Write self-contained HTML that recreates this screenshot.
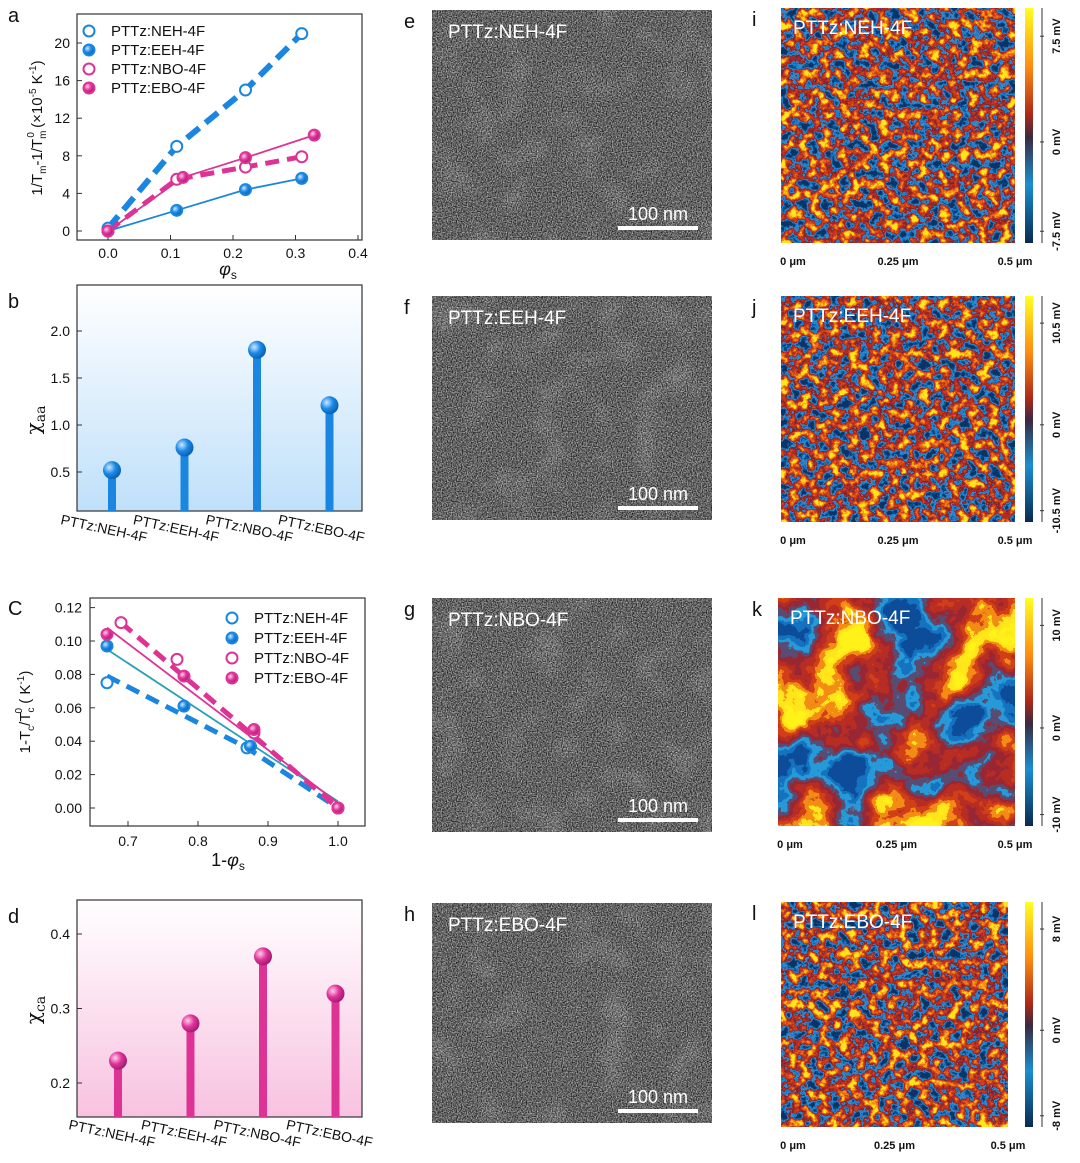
<!DOCTYPE html>
<html><head><meta charset="utf-8">
<style>
body{margin:0;background:#fff;width:1080px;height:1163px;overflow:hidden;font-family:"Liberation Sans",sans-serif;}
svg{position:absolute;left:0;top:0}
filter{color-interpolation-filters:sRGB}
</style></head>
<body>
<svg id="fig" width="1080" height="1163" viewBox="0 0 1080 1163">
<defs>
<filter id="grain" x="0" y="0" width="100%" height="100%" color-interpolation-filters="sRGB">
<feTurbulence type="fractalNoise" baseFrequency="0.8" numOctaves="2" seed="3" result="n"/>
<feColorMatrix in="n" type="matrix" values="1.3 0 0 0 -0.27  1.3 0 0 0 -0.27  1.3 0 0 0 -0.27  0 0 0 0 1" result="g1"/>
<feTurbulence type="fractalNoise" baseFrequency="0.03" numOctaves="2" seed="9" result="m"/>
<feColorMatrix in="m" type="matrix" values="0.25 0 0 0 -0.125  0.25 0 0 0 -0.125  0.25 0 0 0 -0.125  0 0 0 0 1" result="m1"/>
<feComposite in="g1" in2="m1" operator="arithmetic" k1="0" k2="1" k3="1" k4="0"/>
</filter>
<filter id="map1" x="0" y="0" width="100%" height="100%" color-interpolation-filters="sRGB">
<feTurbulence type="fractalNoise" baseFrequency="0.1" numOctaves="4" seed="7"/>
<feColorMatrix type="matrix" values="2 0 0 0 -0.5  2 0 0 0 -0.5  2 0 0 0 -0.5  0 0 0 0 1"/>
<feComponentTransfer>
<feFuncR type="discrete" tableValues="0.05 0.05 0.1 0.2 0.5 0.7 0.8 0.92 0.98 1"/>
<feFuncG type="discrete" tableValues="0.2 0.3 0.5 0.55 0.14 0.17 0.25 0.42 0.65 0.9"/>
<feFuncB type="discrete" tableValues="0.4 0.55 0.8 0.8 0.18 0.14 0.1 0.08 0.08 0.1"/>
<feFuncA type="linear" slope="0" intercept="1"/>
</feComponentTransfer>
</filter>
<filter id="map2" x="0" y="0" width="100%" height="100%" color-interpolation-filters="sRGB">
<feTurbulence type="fractalNoise" baseFrequency="0.015" numOctaves="6" seed="11"/>
<feColorMatrix type="matrix" values="2 0 0 0 -0.5  2 0 0 0 -0.5  2 0 0 0 -0.5  0 0 0 0 1"/>
<feComponentTransfer>
<feFuncR type="discrete" tableValues="0.05 0.08 0.15 0.35 0.6 0.72 0.82 0.95 1 1"/>
<feFuncG type="discrete" tableValues="0.3 0.45 0.6 0.3 0.15 0.18 0.25 0.55 0.9 0.95"/>
<feFuncB type="discrete" tableValues="0.6 0.75 0.85 0.45 0.2 0.14 0.1 0.08 0.1 0.1"/>
<feFuncA type="linear" slope="0" intercept="1"/>
</feComponentTransfer>
</filter>
<linearGradient id="cbar" x1="0" y1="0" x2="0" y2="1">
<stop offset="0" stop-color="#ffff20"/><stop offset="0.25" stop-color="#ff8c10"/>
<stop offset="0.45" stop-color="#b02818"/><stop offset="0.55" stop-color="#3a2a40"/>
<stop offset="0.75" stop-color="#1a8fd0"/><stop offset="1" stop-color="#0a2a50"/>
</linearGradient>
<linearGradient id="bgBlue" x1="0" y1="0" x2="0" y2="1"><stop offset="0" stop-color="#fff"/><stop offset="1" stop-color="#bfe0fa"/></linearGradient>
<linearGradient id="bgPink" x1="0" y1="0" x2="0" y2="1"><stop offset="0" stop-color="#fff"/><stop offset="1" stop-color="#f8c2e0"/></linearGradient>
<radialGradient id="ballB" cx="0.35" cy="0.35" r="0.7"><stop offset="0" stop-color="#cfe8ff"/><stop offset="0.5" stop-color="#1a8ae6"/><stop offset="1" stop-color="#0a5cb0"/></radialGradient>
<radialGradient id="ballP" cx="0.35" cy="0.35" r="0.7"><stop offset="0" stop-color="#ffd0ea"/><stop offset="0.5" stop-color="#e0349a"/><stop offset="1" stop-color="#a01870"/></radialGradient>
</defs>
<g id="root"></g>
</svg>
<script>
// ---- panel a data ----
const aNEHx=[0,0.11,0.22,0.31], aNEHy=[0.3,9,15,21];
const aEEHx=[0,0.11,0.22,0.31], aEEHy=[0,2.2,4.4,5.6];
const aNBOx=[0,0.11,0.22,0.31], aNBOy=[0,5.5,6.8,7.9];
const aEBOx=[0,0.12,0.22,0.33], aEBOy=[0,5.7,7.8,10.2];
const aXTicks=[0.0,0.1,0.2,0.3,0.4], aYTicks=[0,4,8,12,16,20];
// ---- panel b data ----
const bCats=["PTTz:NEH-4F","PTTz:EEH-4F","PTTz:NBO-4F","PTTz:EBO-4F"];
const bVals=[0.52,0.76,1.8,1.21];
const bYTicks=[0.5,1.0,1.5,2.0];
// ---- panel c data ----
const cNEHx=[0.67,0.87,1.0], cNEHy=[0.075,0.036,0];
const cEEHx=[0.67,0.78,0.875,1.0], cEEHy=[0.097,0.061,0.037,0];
const cNBOx=[0.69,0.77,0.88,1.0], cNBOy=[0.111,0.089,0.045,0];
const cEBOx=[0.67,0.78,0.88,1.0], cEBOy=[0.104,0.079,0.047,0];
const cXTicks=[0.7,0.8,0.9,1.0], cYTicks=[0,0.02,0.04,0.06,0.08,0.10,0.12];
// ---- panel d data ----
const dCats=["PTTz:NEH-4F","PTTz:EEH-4F","PTTz:NBO-4F","PTTz:EBO-4F"];
const dVals=[0.23,0.28,0.37,0.32];
const dYTicks=[0.2,0.3,0.4];

const NS="http://www.w3.org/2000/svg";
const root=document.getElementById('root');
function mk(tag,at,parent){const e=document.createElementNS(NS,tag);for(const k in at)e.setAttribute(k,at[k]);(parent||root).appendChild(e);return e;}
function txt(x,y,s,size,anchor,parent){const t=mk('text',{x:x,y:y,'font-size':size,'text-anchor':anchor||'middle',fill:'#111'},parent);t.textContent=s;return t;}
const BLUE="#1a86e0", PINK="#dd3394";

// ===== Panel a =====
const ax=v=>108+v*625, ay=v=>231-v*9.4;
let g=mk('g',{});


let fr=mk('rect',{x:77,y:14,width:285,height:226,fill:'none',stroke:'#333','stroke-width':1.2},g);


aXTicks.forEach(v=>{mk('line',{x1:ax(v),x2:ax(v),y1:240,y2:235,stroke:'#333'},g);let t=txt(ax(v),258,v.toFixed(1),14,'middle',g);});
aYTicks.forEach(v=>{mk('line',{x1:77,x2:82,y1:ay(v),y2:ay(v),stroke:'#333'},g);let t=txt(70,ay(v)+5,String(v),14,'end',g);});
let lab=txt(8,22,'a',20,'start',g);
let xt=mk('text',{x:228,y:275,'font-size':18,'text-anchor':'middle','font-style':'italic',fill:'#111'},g);xt.innerHTML='φ<tspan font-size="12" font-style="normal" dy="4">s</tspan>';

let yt=mk('text',{transform:'translate(42,128) rotate(-90)','font-size':15,'text-anchor':'middle',fill:'#111'},g);
yt.innerHTML='1/T<tspan font-size="10" dy="4">m</tspan><tspan dy="-4">-1/T</tspan><tspan font-size="10" dy="4">m</tspan><tspan font-size="10" dy="-12" dx="-7">0</tspan><tspan dy="8"> (×10</tspan><tspan font-size="10" dy="-6">-5</tspan><tspan dy="6"> K</tspan><tspan font-size="10" dy="-6">-1</tspan><tspan dy="6">)</tspan>';

function poly(xs,ys,fx,fy,col,w,dash,name,par){const p=xs.map((x,i)=>fx(x)+','+fy(ys[i])).join(' ');const l=mk('polyline',{points:p,fill:'none',stroke:col,'stroke-width':w,'stroke-dasharray':dash||'none','stroke-linecap':'butt'},par);return l;}
function pts(xs,ys,fx,fy,col,filled,name,par){xs.forEach((x,i)=>{const c=mk('circle',{cx:fx(x),cy:fy(ys[i]),r:5.5,fill:filled?(col===BLUE?'url(#ballB)':'url(#ballP)'):'#fff',stroke:col,'stroke-width':2},par);});}
poly(aNEHx,aNEHy,ax,ay,BLUE,6,'16,8','a-neh-fit',g);
poly(aEEHx,aEEHy,ax,ay,BLUE,1.8,null,'a-eeh-fit',g);
poly(aNBOx,aNBOy,ax,ay,PINK,5,'14,8','a-nbo-fit',g);
poly(aEBOx,aEBOy,ax,ay,PINK,1.8,null,'a-ebo-fit',g);
pts(aNEHx,aNEHy,ax,ay,BLUE,false,'a-neh-point',g);
pts(aEEHx,aEEHy,ax,ay,BLUE,true,'a-eeh-point',g);
pts(aNBOx,aNBOy,ax,ay,PINK,false,'a-nbo-point',g);
pts(aEBOx,aEBOy,ax,ay,PINK,true,'a-ebo-point',g);
function legend(x0,y0,step,par,prefix){
 const items=[["PTTz:NEH-4F",BLUE,false],["PTTz:EEH-4F",BLUE,true],["PTTz:NBO-4F",PINK,false],["PTTz:EBO-4F",PINK,true]];
 items.forEach((it,i)=>{const y=y0+i*step;const c=mk('circle',{cx:x0,cy:y,r:5.5,fill:it[2]?(it[1]===BLUE?'url(#ballB)':'url(#ballP)'):'#fff',stroke:it[1],'stroke-width':2},par);
 
 const t=txt(x0+22,y+5,it[0],15,'start',par);});
}
legend(89,31,19,g,'a');

// ===== Panel b =====
const by=v=>472-(v-0.5)*94;
g=mk('g',{});


let bg=mk('rect',{x:77,y:285,width:285,height:226,fill:'url(#bgBlue)',stroke:'#333','stroke-width':1.2},g);

bYTicks.forEach(v=>{mk('line',{x1:77,x2:82,y1:by(v),y2:by(v),stroke:'#333'},g);let t=txt(70,by(v)+5,v.toFixed(1),14,'end',g);});
lab=txt(8,308,'b',20,'start',g);
yt=mk('text',{transform:'translate(40,420) rotate(-90)','font-size':20,'text-anchor':'middle',fill:'#111','font-family':'DejaVu Serif, serif'},g);yt.innerHTML='χ<tspan font-size="14" dy="5">aa</tspan>';

bCats.forEach((c,i)=>{const x=112+i*72.5;
 const st=mk('rect',{x:x-4,y:by(bVals[i]),width:8,height:511-by(bVals[i]),fill:BLUE},g);
 const b=mk('circle',{cx:x,cy:by(bVals[i]),r:9,fill:'url(#ballB)'},g);
 const t=mk('text',{transform:`translate(${x-52},${524}) rotate(12)`,'font-size':14,fill:'#111'},g);t.textContent=c;});

// ===== Panel c =====
const cx=v=>128+(v-0.7)*700, cy=v=>808-v*1670;
g=mk('g',{});


fr=mk('rect',{x:90,y:598,width:275,height:228,fill:'none',stroke:'#333','stroke-width':1.2},g);

cXTicks.forEach(v=>{mk('line',{x1:cx(v),x2:cx(v),y1:826,y2:821,stroke:'#333'},g);let t=txt(cx(v),846,v.toFixed(1),14,'middle',g);});
cYTicks.forEach(v=>{mk('line',{x1:90,x2:95,y1:cy(v),y2:cy(v),stroke:'#333'},g);let t=txt(82,cy(v)+5,v.toFixed(2),14,'end',g);});
lab=txt(8,615,'C',20,'start',g);
xt=mk('text',{x:228,y:866,'font-size':18,'text-anchor':'middle',fill:'#111'},g);xt.innerHTML='1-<tspan font-style="italic">φ</tspan><tspan font-size="12" dy="4">s</tspan>';

yt=mk('text',{transform:'translate(30,712) rotate(-90)','font-size':15,'text-anchor':'middle',fill:'#111'},g);
yt.innerHTML='1-T<tspan font-size="10" dy="4">c</tspan><tspan dy="-4">/T</tspan><tspan font-size="10" dy="4">c</tspan><tspan font-size="10" dy="-12" dx="-6">0</tspan><tspan dy="8"> ( K</tspan><tspan font-size="10" dy="-6">-1</tspan><tspan dy="6">)</tspan>';

poly(cNEHx,cNEHy.map((v,i)=>i===0?0.079:v),cx,cy,BLUE,5,'14,8','c-neh-fit',g);
poly([0.67,1.0],[0.095,0.004],cx,cy,'#2aa0b8',1.8,null,'c-eeh-fit',g);
poly([0.69,1.0],[0.111,0],cx,cy,PINK,5,'14,8','c-nbo-fit',g);
poly([0.67,1.0],[0.108,0.003],cx,cy,PINK,1.8,null,'c-ebo-fit',g);
pts(cNEHx,cNEHy,cx,cy,BLUE,false,'c-neh-point',g);
pts(cEEHx,cEEHy,cx,cy,BLUE,true,'c-eeh-point',g);
pts(cNBOx,cNBOy,cx,cy,PINK,false,'c-nbo-point',g);
pts(cEBOx,cEBOy,cx,cy,PINK,true,'c-ebo-point',g);
legend(232,618,20,g,'c');

// ===== Panel d =====
const dy=v=>1083-(v-0.2)*745;
g=mk('g',{});


bg=mk('rect',{x:77,y:900,width:285,height:217,fill:'url(#bgPink)',stroke:'#333','stroke-width':1.2},g);

dYTicks.forEach(v=>{mk('line',{x1:77,x2:82,y1:dy(v),y2:dy(v),stroke:'#333'},g);let t=txt(70,dy(v)+5,v.toFixed(1),14,'end',g);});
lab=txt(8,923,'d',20,'start',g);
yt=mk('text',{transform:'translate(40,1010) rotate(-90)','font-size':20,'text-anchor':'middle',fill:'#111','font-family':'DejaVu Serif, serif'},g);yt.innerHTML='χ<tspan font-size="14" dy="5">ca</tspan>';

dCats.forEach((c,i)=>{const x=118+i*72.5;
 const st=mk('rect',{x:x-4,y:dy(dVals[i]),width:8,height:1117-dy(dVals[i]),fill:PINK},g);
 const b=mk('circle',{cx:x,cy:dy(dVals[i]),r:9,fill:'url(#ballP)'},g);
 const t=mk('text',{transform:`translate(${x-50},${1129}) rotate(12)`,'font-size':14,fill:'#111'},g);t.textContent=c;});

// ===== TEM images =====
const tem=[["e","PTTz:NEH-4F",10,230],["f","PTTz:EEH-4F",296,224],["g","PTTz:NBO-4F",598,234],["h","PTTz:EBO-4F",903,220]];
tem.forEach(t=>{const gg=mk('g',{});
 mk('rect',{x:432,y:t[2],width:280,height:t[3],fill:'#6e6e6e'},gg);
 mk('rect',{x:432,y:t[2],width:280,height:t[3],fill:'#777',filter:'url(#grain)',opacity:0.85},gg);
 const l=txt(404,t[2]+18,t[0],20,'start',gg);
 const tt=mk('text',{x:448,y:t[2]+28,'font-size':19,fill:'#fff'},gg);tt.textContent=t[1];
 const sb=mk('rect',{x:618,y:t[2]+t[3]-14,width:80,height:4,fill:'#fff'},gg);
 const st=mk('text',{x:658,y:t[2]+t[3]-20,'font-size':18,fill:'#fff','text-anchor':'middle'},gg);st.textContent='100 nm';
});

// ===== KPFM maps =====
const maps=[["i","PTTz:NEH-4F",781,8,234,235,"7.5 mV","-7.5 mV","map1"],["j","PTTz:EEH-4F",781,296,234,226,"10.5 mV","-10.5 mV","map1"],["k","PTTz:NBO-4F",778,598,237,228,"10 mV","-10 mV","map2"],["l","PTTz:EBO-4F",781,902,227,225,"8 mV","-8 mV","map1"]];
maps.forEach(m=>{const gg=mk('g',{});
 const [_,title,x,y,w,h,hi,lo,f]=m;
 mk('rect',{x:x,y:y,width:w,height:h,fill:'#a03020',filter:'url(#'+f+')'},gg);
 const l=txt(752,y+18,m[0],20,'start',gg);
 const tt=mk('text',{x:x+12,y:y+26,'font-size':19,fill:'#fff'},gg);tt.textContent=title;
 const cb=mk('rect',{x:1025,y:y,width:8,height:h,fill:'url(#cbar)'},gg);
 [[hi,y+h*0.12],["0 mV",y+h*0.57],[lo,y+h*0.95]].forEach((p,k)=>{mk('line',{x1:1040,x2:1044,y1:p[1],y2:p[1],stroke:'#333'},gg);const t=mk('text',{transform:`translate(1060,${p[1]}) rotate(-90)`,'font-size':11,'font-weight':'bold','text-anchor':'middle',fill:'#111'},gg);t.textContent=p[0];});
 mk('line',{x1:1042,x2:1042,y1:y,y2:y+h,stroke:'#333'},gg);
 [["0 μm",x+12],["0.25 μm",x+w/2],["0.5 μm",x+w]].forEach(p=>{const t=txt(p[1],y+h+22,p[0],11,'middle',gg);t.setAttribute('font-weight','bold');});
});
</script>
</body></html>
